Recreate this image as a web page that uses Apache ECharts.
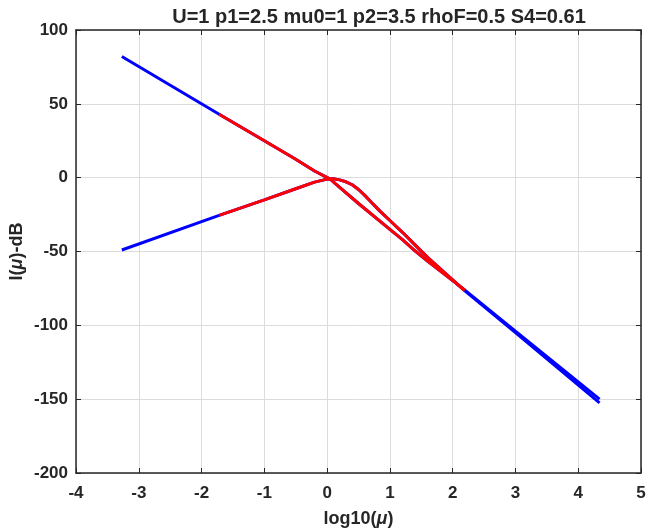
<!DOCTYPE html>
<html lang="en">
<head>
	<meta charset="utf-8">
	<title>I(mu)-dB vs log10(mu)</title>
	<style>
		html, body { margin: 0; padding: 0; background: #fff; }
		#main { width: 646px; height: 531px; }
	</style>
</head>
<body>
	<div id="main"></div>
	<script type="text/javascript" src="https://cdn.jsdelivr.net/npm/echarts@6/dist/echarts.min.js"></script>
	<script type="text/javascript">
		// values
		var titleText = 'U=1 p1=2.5 mu0=1 p2=3.5 rhoF=0.5 S4=0.61';
		var xTicks = [-4, -3, -2, -1, 0, 1, 2, 3, 4, 5];
		var yTicks = [-200, -150, -100, -50, 0, 50, 100];

		// falling curve
		var fallX = [-3.27, -1.72, -1.0, -0.5, -0.2, 0.05, 0.2, 0.5, 1.0, 1.2, 1.4, 1.6, 2.19, 3.0, 4.34];
		var fallY = [82, 43, 25, 12.5, 4.5, -1, -6.5, -17.5, -35, -42, -49.5, -56.5, -76, -104, -150];
		// rising curve with the bump
		var riseX = [-3.27, -1.72, -1.0, -0.5, -0.2, 0.0, 0.1, 0.2, 0.3, 0.4, 0.5, 0.6, 0.7, 0.85, 1.0, 1.2, 1.4, 1.6, 2.19, 3.0, 4.34];
		var riseY = [-49, -25.5, -15, -7.5, -3, -1, -0.8, -1.5, -2.8, -4.8, -8, -12, -16.5, -23, -29, -37, -45.5, -54, -76.5, -105, -152.5];
		// x range drawn in red
		var redFrom = -1.72;
		var redTo = 2.19;

		function pairs(xs, ys, lo, hi) {
			var out = [];
			for (var i = 0; i < xs.length; i++) {
				if (xs[i] >= lo && xs[i] <= hi) out.push([xs[i], ys[i]]);
			}
			return out;
		}

		var ink = '#262626';
		var face = 'Liberation Sans, Arial, sans-serif';
		var lbl = { color: ink, fontSize: 17, fontWeight: 'bold', fontFamily: face };
		var nameStyle = {
			color: ink, fontSize: 18, fontWeight: 'bold', fontFamily: face,
			rich: { i: { fontStyle: 'italic', fontSize: 18, fontWeight: 'bold', fontFamily: face, color: ink } }
		};

		function lineSeries(data, color, w, z) {
			return {
				type: 'line',
				data: data,
				showSymbol: false,
				smooth: false,
				z: z,
				lineStyle: { color: color, width: w },
				itemStyle: { color: color },
				silent: true,
				animation: false
			};
		}

		var myChart = echarts.init(document.getElementById('main'));
		myChart.setOption({
			animation: false,
			backgroundColor: '#fff',
			title: {
				text: titleText,
				left: 374, top: 2, textAlign: 'center',
				textStyle: { color: ink, fontSize: 20, fontWeight: 'bold', fontFamily: face }
			},
			grid: { left: 76, right: 5, top: 30, bottom: 58, show: false, outerBoundsMode: 'none', containLabel: false },
			xAxis: [{
				type: 'value', min: xTicks[0], max: xTicks[xTicks.length - 1], interval: 1,
				name: 'log10({i|μ})', nameLocation: 'middle', nameGap: 37, nameMoveOverlap: false,
				nameTextStyle: nameStyle,
				axisLine: { show: true, onZero: false, lineStyle: { color: ink, width: 1.5 } },
				axisTick: { show: true, inside: true, length: 5, lineStyle: { color: ink } },
				axisLabel: Object.assign({ margin: 12 }, lbl),
				splitLine: { show: true, lineStyle: { color: '#dcdcdc', width: 1 } }
			}, {
				type: 'value', position: 'top', min: xTicks[0], max: xTicks[xTicks.length - 1], interval: 1,
				axisLine: { show: true, onZero: false, lineStyle: { color: ink, width: 1.5 } },
				axisTick: { show: true, inside: true, length: 5, lineStyle: { color: ink } },
				axisLabel: { show: false },
				splitLine: { show: false }
			}],
			yAxis: [{
				type: 'value', min: yTicks[0], max: yTicks[yTicks.length - 1], interval: 50,
				name: 'I({i|μ})-dB', nameLocation: 'middle', nameGap: 50, nameRotate: 90, nameMoveOverlap: false,
				nameTextStyle: nameStyle,
				axisLine: { show: true, onZero: false, lineStyle: { color: ink, width: 1.5 } },
				axisTick: { show: true, inside: true, length: 5, lineStyle: { color: ink } },
				axisLabel: Object.assign({ margin: 8 }, lbl),
				splitLine: { show: true, lineStyle: { color: '#dcdcdc', width: 1 } }
			}, {
				type: 'value', position: 'right', min: yTicks[0], max: yTicks[yTicks.length - 1], interval: 50,
				axisLine: { show: true, onZero: false, lineStyle: { color: ink, width: 1.5 } },
				axisTick: { show: true, inside: true, length: 5, lineStyle: { color: ink } },
				axisLabel: { show: false },
				splitLine: { show: false }
			}],
			series: [
				lineSeries(pairs(fallX, fallY, -99, 99), '#0000ff', 3, 2),
				lineSeries(pairs(riseX, riseY, -99, 99), '#0000ff', 3, 2),
				lineSeries(pairs(fallX, fallY, redFrom, redTo), '#ff0000', 3, 3),
				lineSeries(pairs(riseX, riseY, redFrom, redTo), '#ff0000', 3, 3)
			]
		});
	</script>
</body>
</html>
